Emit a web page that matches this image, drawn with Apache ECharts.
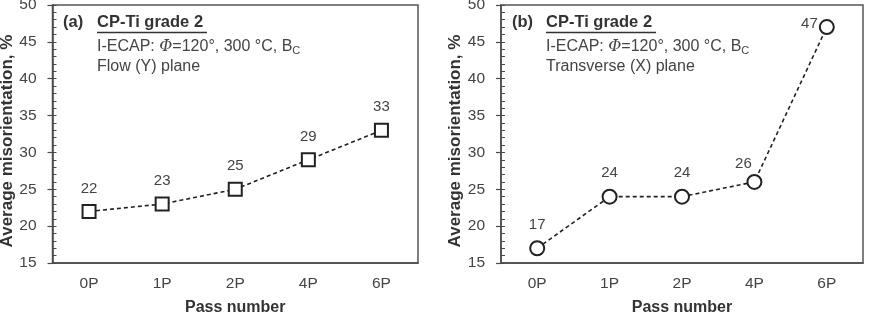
<!DOCTYPE html>
<html><head><meta charset="utf-8">
<script src="https://cdn.jsdelivr.net/npm/echarts@6/dist/echarts.min.js"></script>
<style>html,body{margin:0;padding:0;background:#fff}#c{width:869px;height:314px}</style>
</head><body><div id="c"></div>
<script>
const categories = ['0P', '1P', '2P', '4P', '6P'];
const flowPlane = [22, 23, 25, 29, 33];
const transversePlane = [17, 24, 24, 26, 47];
const yMin = 15, yMax = 50, yStep = 5;
const yAxisName = 'Average misorientation, %';
const xAxisName = 'Pass number';
const panelTitle = 'CP-Ti grade 2';
const panelLetters = ['(a)', '(b)'];
const planeNames = ['Flow (Y) plane', 'Transverse (X) plane'];

const FONT = 'Liberation Sans, Arial, sans-serif';
const AX = '#4a4a4a';
const TXT = '#444';

const chart = echarts.init(document.getElementById('c'), null, {renderer: 'canvas'});

const grids = [
  {left: 52.5, right: 451, top: 5, bottom: 51},
  {left: 501, right: 6, top: 5, bottom: 51}
];

function xAxes(gi) {
  return [
    {
      type: 'category', gridIndex: gi, data: categories, boundaryGap: true,
      axisLine: {lineStyle: {color: AX, width: 1.5}},
      axisTick: {alignWithLabel: true, length: 4, lineStyle: {color: AX, width: 1.2}},
      axisLabel: {color: TXT, fontFamily: FONT, fontSize: 15.5, margin: 13},
      name: xAxisName, nameLocation: 'middle', nameGap: 37,
      nameTextStyle: {fontFamily: FONT, fontWeight: 'bold', fontSize: 16, color: '#333'},
      splitLine: {show: false}
    },
    {
      type: 'category', gridIndex: gi, data: categories, boundaryGap: true, position: 'bottom',
      axisLine: {show: false},
      axisTick: {alignWithLabel: true, inside: true, length: 4, lineStyle: {color: AX, width: 1.2}},
      axisLabel: {show: false}, splitLine: {show: false}
    }
  ];
}
function yAxes(gi) {
  return [
    {
      type: 'value', gridIndex: gi, min: yMin, max: yMax, interval: yStep, position: 'left',
      axisLine: {show: true, lineStyle: {color: AX, width: 1.5}},
      axisTick: {show: true, length: 5, lineStyle: {color: AX, width: 1.2}},
      axisLabel: {color: TXT, fontFamily: FONT, fontSize: 15.5, margin: 16},
      splitLine: {show: false},
      name: yAxisName, nameLocation: 'middle', nameGap: 36, nameRotate: 90,
      nameTextStyle: {fontFamily: FONT, fontWeight: 'bold', fontSize: 17, color: '#333', padding: [0, 14, 0, 0]}
    },
    {
      type: 'value', gridIndex: gi, min: yMin, max: yMax, interval: yStep, position: 'left',
      axisLine: {show: false},
      axisTick: {show: true, inside: true, length: 4, lineStyle: {color: AX, width: 1}},
      minorTick: {show: true, splitNumber: 5, length: 4, lineStyle: {color: AX, width: 1}},
      axisLabel: {show: false}, splitLine: {show: false}
    }
  ];
}

const labelBase = {show: true, position: 'top', distance: 8, color: TXT, fontFamily: FONT, fontSize: 15};
const lineStyle = {color: '#222', width: 1.6, type: [4, 3]};

const transverseLabelTweaks = {3: {position: 'top', distance: 3, offset: [-11, 0]}, 4: {position: 'left', distance: 1, offset: [0, -3]}};

const series = [
  {
    type: 'line', xAxisIndex: 0, yAxisIndex: 0, data: flowPlane,
    symbol: 'rect', symbolSize: 13,
    itemStyle: {color: '#fff', borderColor: '#222', borderWidth: 2},
    lineStyle: lineStyle, label: labelBase, z: 3
  },
  {
    type: 'line', xAxisIndex: 2, yAxisIndex: 2,
    data: transversePlane.map((v, i) => transverseLabelTweaks[i] ? {value: v, label: transverseLabelTweaks[i]} : v),
    symbol: 'circle', symbolSize: 14,
    itemStyle: {color: '#fff', borderColor: '#222', borderWidth: 2},
    lineStyle: lineStyle, label: labelBase, z: 3
  }
];

function annotations(gi) {
  const letterX = gi === 0 ? 63 : 512;
  const textX = gi === 0 ? 97 : 546;
  return [
    {type: 'text', left: letterX, top: 14, style: {text: panelLetters[gi], font: 'bold 16.5px ' + FONT, fill: '#333'}},
    {type: 'text', left: textX, top: 14, style: {text: panelTitle, font: 'bold 16.5px ' + FONT, fill: '#333'}},
    {type: 'line', shape: {x1: textX, y1: 32.5, x2: textX + 110, y2: 32.5}, style: {stroke: '#333', lineWidth: 1.3}},
    {type: 'text', left: textX, top: 39, style: {
      text: 'I-ECAP: {phi|Φ}=120°, 300 °C, B{sub|C}',
      font: '16px ' + FONT, fill: TXT,
      rich: {
        phi: {fontFamily: 'DejaVu Serif, Liberation Serif, serif', fontStyle: 'italic', fontSize: 16, fill: TXT},
        sub: {fontSize: 11, fontFamily: FONT, fill: TXT, padding: [8, 0, 0, 0]}
      }
    }},
    {type: 'text', left: textX, top: 59, style: {text: planeNames[gi], font: '16px ' + FONT, fill: TXT}}
  ];
}

chart.setOption({
  backgroundColor: '#fff',
  animation: false,
  grid: grids.map(g => Object.assign({show: true, borderColor: '#555', borderWidth: 1.5, backgroundColor: 'transparent', containLabel: false, outerBoundsMode: 'none'}, g)),
  xAxis: [...xAxes(0), ...xAxes(1)],
  yAxis: [...yAxes(0), ...yAxes(1)],
  series: series,
  graphic: [...annotations(0), ...annotations(1)]
});
</script></body></html>
